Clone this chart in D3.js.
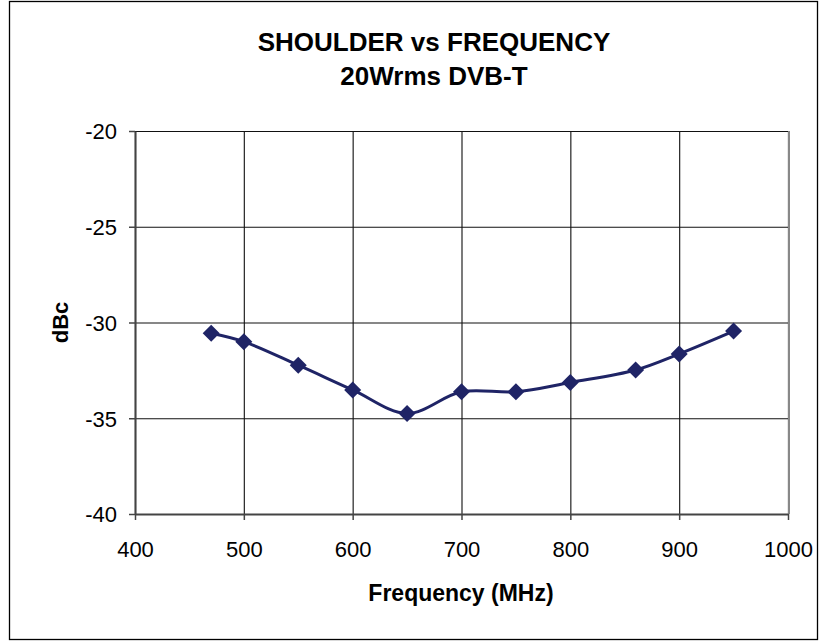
<!DOCTYPE html>
<html>
<head>
<meta charset="utf-8">
<script src="https://cdn.jsdelivr.net/npm/d3@7"></script>
<style>
  body { margin: 0; background: #fff; }
  text { font-family: "Liberation Sans", Arial, sans-serif; }
</style>
</head>
<body>
<div class="chart"></div>
<script>
const freq = [470, 500, 550, 600, 650, 700, 750, 800, 860, 900, 950]
const dbc = [-30.56, -31.0, -32.23, -33.52, -34.75, -33.62, -33.62, -33.13, -32.48, -31.64, -30.45]
const xTicks = [400, 500, 600, 700, 800, 900, 1000]
const yTicks = [-40, -35, -30, -25, -20]

const data = freq.map((f, i) => ({freq: f, dbc: dbc[i]}))

const W = 827, H = 641
const plot = {left: 135, top: 131, right: 788, bottom: 514}
const font = "'Liberation Sans', Arial, sans-serif"

const svg = d3.select(".chart").append("svg")
  .attr("width", W)
  .attr("height", H)

// outer frame
svg.append("rect")
  .attr("x", 9.5).attr("y", 1.5)
  .attr("width", 808).attr("height", 638)
  .attr("fill", "white")
  .attr("stroke", "#000")
  .attr("stroke-width", 1.3)

const xScale = d3.scaleLinear().domain([400, 1000]).range([plot.left, plot.right])
const yScale = d3.scaleLinear().domain([-40, -20]).range([plot.bottom, plot.top])

// grid
const xGrid = d3.axisBottom(xScale).tickValues(xTicks).tickSize(-(plot.bottom - plot.top)).tickFormat('')
const yGrid = d3.axisLeft(yScale).tickValues(yTicks).tickSize(-(plot.right - plot.left)).tickFormat('')

svg.append("g")
  .attr("class", "x-grid")
  .attr("transform", `translate(0,${plot.bottom})`)
  .call(xGrid)
  .call(g => g.select(".domain").remove())
  .selectAll("line").attr("stroke", "#222").attr("stroke-width", 1.2)

svg.append("g")
  .attr("class", "y-grid")
  .attr("transform", `translate(${plot.left},0)`)
  .call(yGrid)
  .call(g => g.select(".domain").remove())
  .selectAll("line").attr("stroke", "#111").attr("stroke-width", 1.2)

// plot area right border in gray
svg.append("line")
  .attr("x1", plot.right + 1).attr("x2", plot.right + 1)
  .attr("y1", plot.top).attr("y2", plot.bottom)
  .attr("stroke", "#888").attr("stroke-width", 2)

// axes
const xAxis = d3.axisBottom(xScale).tickValues(xTicks).tickSize(6).tickSizeOuter(0).tickFormat(d3.format("d"))
const yAxis = d3.axisLeft(yScale).tickValues(yTicks).tickSize(6).tickSizeOuter(0).tickFormat(d => String(d))

svg.append("g")
  .attr("class", "axis x-axis")
  .attr("transform", `translate(0,${plot.bottom})`)
  .call(xAxis)
  .call(g => g.select(".domain").attr("stroke", "#444").attr("stroke-width", 2))
  .call(g => g.selectAll(".tick line").attr("stroke", "#444").attr("stroke-width", 1.5))
  .call(g => g.selectAll(".tick text")
    .attr("font-size", 22).attr("fill", "#000").attr("y", 43).attr("dy", null)
    .style("font-family", font))

svg.append("g")
  .attr("class", "axis y-axis")
  .attr("transform", `translate(${plot.left},0)`)
  .call(yAxis)
  .call(g => g.select(".domain").attr("stroke", "#444").attr("stroke-width", 2))
  .call(g => g.selectAll(".tick line").attr("stroke", "#444").attr("stroke-width", 1.5))
  .call(g => g.selectAll(".tick text")
    .attr("font-size", 22).attr("fill", "#000").attr("x", -18).attr("dy", "0.36em")
    .style("font-family", font))

// titles
svg.append("text")
  .attr("x", 434).attr("y", 51)
  .attr("text-anchor", "middle")
  .attr("font-size", 26).attr("font-weight", "bold")
  .text("SHOULDER vs FREQUENCY")

svg.append("text")
  .attr("x", 434).attr("y", 85)
  .attr("text-anchor", "middle")
  .attr("font-size", 26).attr("font-weight", "bold")
  .text("20Wrms DVB-T")

svg.append("text")
  .attr("x", 461).attr("y", 601)
  .attr("text-anchor", "middle")
  .attr("font-size", 23).attr("font-weight", "bold")
  .text("Frequency (MHz)")

svg.append("text")
  .attr("transform", `translate(68,${(plot.top + plot.bottom) / 2}) rotate(-90)`)
  .attr("text-anchor", "middle")
  .attr("font-size", 22).attr("font-weight", "bold")
  .text("dBc")

// line
const line = d3.line()
  .x(d => xScale(d.freq))
  .y(d => yScale(d.dbc))
  .curve(d3.curveCatmullRom.alpha(0.5))

svg.append("path")
  .datum(data)
  .attr("fill", "none")
  .attr("stroke", "#1F2466")
  .attr("stroke-width", 3)
  .attr("d", line)

svg.selectAll(".marker")
  .data(data)
  .enter()
  .append("path")
  .attr("class", "marker")
  .attr("transform", d => `translate(${xScale(d.freq)},${yScale(d.dbc)})`)
  .attr("d", "M0,-8.5L8.5,0L0,8.5L-8.5,0Z")
  .attr("fill", "#1F2466")
</script>
</body>
</html>
